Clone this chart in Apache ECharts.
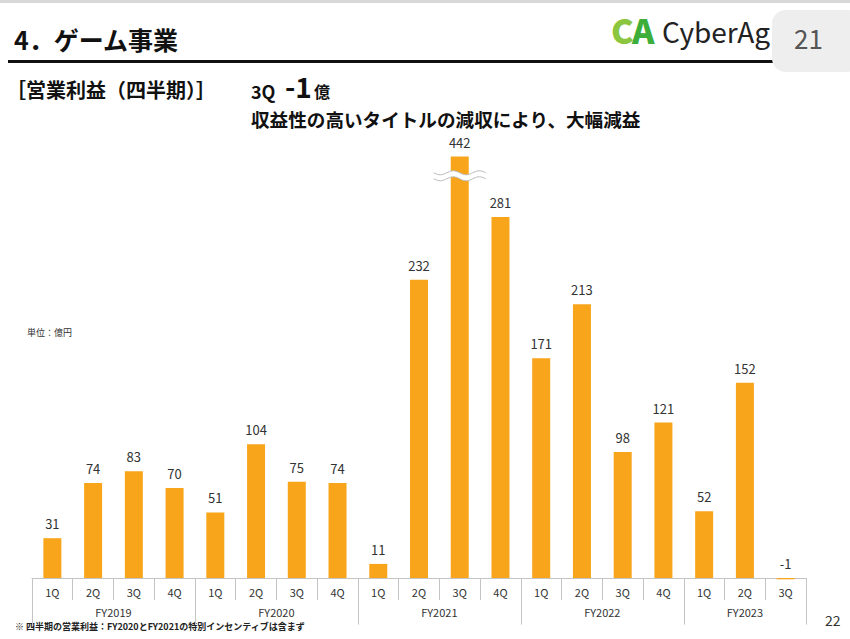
<!DOCTYPE html>
<html><head><meta charset="utf-8">
<script src="https://cdn.jsdelivr.net/npm/echarts@6/dist/echarts.min.js"></script>
<style>html,body{margin:0;padding:0;background:#fff;}#c{width:850px;height:639px;}</style>
</head><body><div id="c"></div>
<script>
const quarters = ['1Q','2Q','3Q','4Q','1Q','2Q','3Q','4Q','1Q','2Q','3Q','4Q','1Q','2Q','3Q','4Q','1Q','2Q','3Q'];
const profit = [31,74,83,70,51,104,75,74,11,232,442,281,171,213,98,121,52,152,-1];
const fiscalYears = ['FY2019','FY2020','FY2021','FY2022','FY2023'];
const yearStart = [0,4,8,12,16,19];      // category boundaries of fiscal years
const breakIndex = 10;                   // bar drawn with an axis break (442)
const breakValue = 313;

const font = '"Noto Sans CJK JP","Noto Sans",sans-serif';
const chart = echarts.init(document.getElementById('c'), null, {renderer:'svg'});

const yearCenters = fiscalYears.map((_, i) => (yearStart[i] + yearStart[i+1]) / 2);

chart.setOption({
  animation:false,
  grid:{left:32, right:44, top:156.5, bottom:58.4},
  xAxis:[{
    type:'category', data:quarters, boundaryGap:true,
    axisLine:{onZero:true, lineStyle:{color:'#c4c4c4', width:1}},
    axisTick:{show:true, interval:0, length:22, lineStyle:{color:'#c4c4c4'}},
    axisLabel:{interval:0, margin:6, fontSize:11, color:'#333', fontFamily:font}
  },{
    type:'value', min:0, max:19, position:'bottom',
    axisLine:{show:false, onZero:true},
    splitLine:{show:false},
    axisTick:{show:true, length:44, customValues:yearStart, lineStyle:{color:'#c4c4c4'}},
    axisLabel:{customValues:yearCenters, margin:26, fontSize:11, color:'#333', fontFamily:font,
      formatter:(v)=>{const i=yearCenters.indexOf(v); return i>=0?fiscalYears[i]:'';}}
  }],
  yAxis:{type:'value', min:-2, max:328, show:false, splitLine:{show:false}},
  series:[{
    type:'bar', data:profit, barWidth:18, clip:true,
    itemStyle:{color:'#F8A51B'},
    label:{show:true, position:'top', distance:8, fontSize:13, color:'#333', fontFamily:font}
  }],
  graphic:[
    {id:'g0', type:'rect', shape:{x:0,y:0,width:850,height:3}, style:{fill:'#d8d8d8'}},
    {id:'g1', type:'text', left:14, top:26, style:{text:'4．ゲーム事業', font:'bold 25px '+font, fill:'#111'}},
    {id:'g2', type:'rect', shape:{x:8,y:60,width:770,height:3}, style:{fill:'#111'}},
    {id:'g3', type:'text', left:611, top:12, style:{text:'C', font:'900 34px '+font, fill:'#8CC63F'}},
    {id:'g4', type:'text', left:632, top:12, style:{text:'A', font:'900 34px '+font, fill:'#3DAE3A'}},
    {id:'g5', type:'text', left:662, top:17, style:{text:'CyberAg', font:'28px '+font, fill:'#222'}},
    {id:'g6', type:'rect', shape:{x:772,y:10,width:90,height:62,r:14}, style:{fill:'#eeeeee'}},
    {id:'g7', type:'text', left:794, top:24, style:{text:'21', font:'26px '+font, fill:'#555'}},
    {id:'g8', type:'text', left:6, top:79, style:{text:'［営業利益（四半期）］', font:'bold 20px '+font, fill:'#111'}},
    {id:'g9', type:'text', left:251, top:82, style:{text:'3Q', font:'bold 18px '+font, fill:'#111'}},
    {id:'g10', type:'text', left:285, top:72, style:{text:'-1', font:'bold 28px '+font, fill:'#111'}},
    {id:'g11', type:'text', left:314, top:83, style:{text:'億', font:'bold 16px '+font, fill:'#111'}},
    {id:'g12', type:'text', left:251, top:109, style:{text:'収益性の高いタイトルの減収により、大幅減益', font:'bold 18.6px '+font, fill:'#111'}},
    {id:'g13', type:'text', left:27, top:328, style:{text:'単位：億円', font:'9px '+font, fill:'#333'}},
    {id:'g14', type:'text', left:15, top:622, style:{text:'※ 四半期の営業利益：FY2020とFY2021の特別インセンティブは含まず', font:'bold 9px '+font, fill:'#222'}},
    {id:'g15', type:'text', left:825, top:613, style:{text:'22', font:'14px '+font, fill:'#333'}}
  ]
});

// wave break drawn on the truncated bar, positioned through the chart's scales
const ctr = chart.convertToPixel({xAxisIndex:0, yAxisIndex:0}, [breakIndex, breakValue]);
function wave(dy){
  const pts=[]; for(let i=0;i<=40;i++){const x=ctr[0]-26+i*52/40; pts.push([x, ctr[1]+dy+2*Math.sin(i/40*Math.PI*4)]);} return pts;
}
const waveTop = wave(-3), waveBot = wave(3);
chart.setOption({graphic:[
  {id:'w0', type:'polygon', shape:{points: waveTop.concat(waveBot.slice().reverse())}, style:{fill:'#fff'}, z:100},
  {id:'w1', type:'polyline', shape:{points: waveTop}, style:{stroke:'#bbb', lineWidth:1, fill:null}, z:101},
  {id:'w2', type:'polyline', shape:{points: waveBot}, style:{stroke:'#bbb', lineWidth:1, fill:null}, z:101}
]});
</script></body></html>
